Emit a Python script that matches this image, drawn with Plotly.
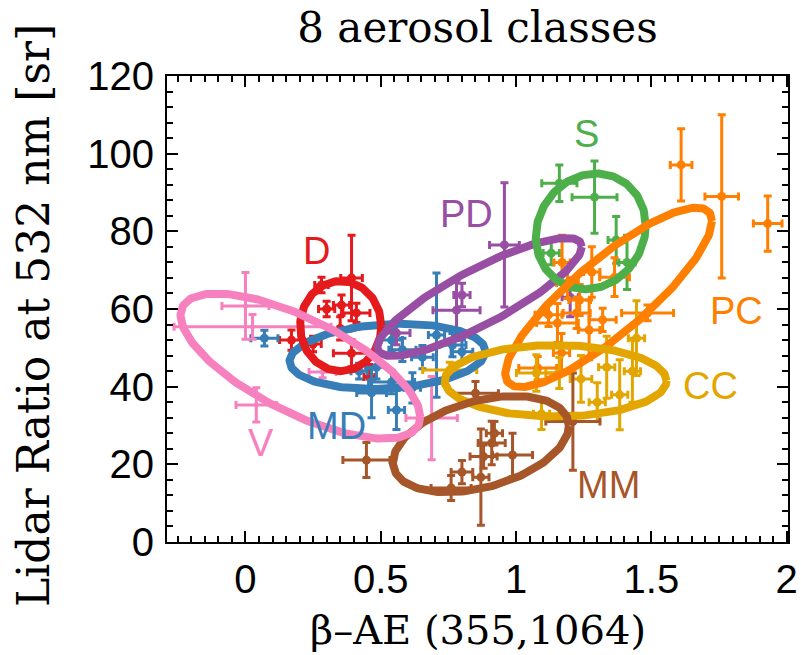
import numpy as np
import plotly.graph_objects as go

# ---------------- data ----------------
classes = ["D", "MD", "PD", "S", "PC", "CC", "MM", "V"]
colors = {"D": "#e41a1c", "MD": "#377eb8", "PD": "#984ea3", "S": "#4daf4a",
          "PC": "#ff7f00", "CC": "#e3a600", "MM": "#a65628", "V": "#f781bf"}

# per-class measurements: x (beta-AE), y (lidar ratio), x error, y error
D_x  = [0.392, 0.281, 0.355, 0.300, 0.410, 0.170, 0.392, 0.458, 0.350, 0.250]
D_y  = [68.0, 66.2, 61.0, 60.0, 59.0, 52.0, 48.6, 42.5, 55.0, 51.0]
D_xe = [0.040, 0.025, 0.030, 0.030, 0.050, 0.044, 0.067, 0.020, 0.040, 0.030]
D_ye = [11.0, 2.0, 2.6, 2.0, 2.5, 2.6, 3.5, 3.2, 3.0, 2.0]

MD_x  = [0.070, 0.706, 0.540, 0.580, 0.800, 0.466, 0.558, 0.540, 0.617, 0.484, 0.654, 0.765, 0.420]
MD_y  = [52.5, 53.3, 52.0, 49.5, 49.0, 38.4, 34.0, 41.2, 39.7, 45.0, 47.6, 50.7, 44.0]
MD_xe = [0.050, 0.030, 0.040, 0.050, 0.040, 0.055, 0.030, 0.085, 0.030, 0.040, 0.040, 0.050, 0.030]
MD_ye = [2.0, 16.0, 3.0, 3.0, 3.0, 6.4, 5.0, 3.0, 3.9, 3.0, 3.0, 3.0, 2.0]

PD_x  = [0.780, 0.800, 0.558, 0.957, 1.200]
PD_y  = [59.7, 63.6, 53.8, 76.5, 63.0]
PD_xe = [0.087, 0.030, 0.050, 0.055, 0.030]
PD_ye = [7.7, 3.0, 3.0, 16.0, 5.0]

S_x  = [1.290, 1.160, 1.130, 1.370, 1.410]
S_y  = [88.8, 92.4, 74.4, 77.8, 72.0]
S_xe = [0.083, 0.065, 0.030, 0.030, 0.030]
S_ye = [9.3, 4.7, 3.0, 6.0, 7.0]

PC_x  = [1.610, 1.760, 1.930, 1.486, 1.170, 1.280, 1.364, 1.153, 1.224, 1.270, 1.320, 1.080, 1.190, 1.235, 1.168, 1.120]
PC_y  = [97.1, 89.0, 82.0, 59.0, 72.0, 69.5, 68.2, 56.4, 59.0, 54.6, 57.2, 44.8, 66.7, 62.3, 48.7, 58.5]
PC_xe = [0.040, 0.062, 0.053, 0.096, 0.030, 0.030, 0.055, 0.077, 0.050, 0.040, 0.050, 0.070, 0.040, 0.040, 0.030, 0.050]
PC_ye = [9.3, 21.0, 7.1, 2.0, 7.0, 6.5, 5.0, 5.0, 4.0, 7.7, 3.0, 3.0, 4.0, 4.0, 5.0, 3.0]

CC_x  = [1.445, 1.383, 1.300, 1.335, 1.430, 1.075, 1.160, 1.094, 0.755, 1.240]
CC_y  = [52.5, 37.9, 36.0, 45.0, 44.0, 43.5, 43.5, 33.0, 44.3, 42.0]
CC_xe = [0.030, 0.030, 0.030, 0.030, 0.030, 0.074, 0.050, 0.030, 0.100, 0.040]
CC_ye = [9.6, 9.0, 5.0, 8.0, 8.0, 4.7, 4.0, 4.0, 2.0, 6.0]

MM_x  = [0.447, 0.760, 0.850, 0.910, 0.987, 0.870, 1.210, 0.880, 0.920, 0.800]
MM_y  = [21.1, 13.9, 38.3, 25.5, 22.4, 16.7, 31.0, 22.0, 28.0, 18.0]
MM_xe = [0.087, 0.074, 0.085, 0.050, 0.074, 0.030, 0.100, 0.050, 0.030, 0.040]
MM_ye = [4.5, 3.2, 3.0, 5.6, 5.6, 12.4, 12.5, 3.0, 3.0, 3.0]

V_x  = [0.000, 0.026, 0.040, 0.688, 0.285]
V_y  = [60.8, 55.4, 35.3, 31.9, 43.8]
V_xe = [0.087, 0.290, 0.075, 0.095, 0.050]
V_ye = [8.6, 3.2, 4.4, 10.7, 1.5]

points = {
    "D": (D_x, D_y, D_xe, D_ye), "MD": (MD_x, MD_y, MD_xe, MD_ye),
    "PD": (PD_x, PD_y, PD_xe, PD_ye), "S": (S_x, S_y, S_xe, S_ye),
    "PC": (PC_x, PC_y, PC_xe, PC_ye), "CC": (CC_x, CC_y, CC_xe, CC_ye),
    "MM": (MM_x, MM_y, MM_xe, MM_ye), "V": (V_x, V_y, V_xe, V_ye),
}

# class ellipses: centre x, centre y, half-width x, half-height y, correlation
ell_cx  = {"D": 0.352, "MD": 0.525, "PD": 0.865, "S": 1.276, "PC": 1.342, "CC": 1.146, "MM": 0.870, "V": 0.203}
ell_cy  = {"D": 55.6, "MD": 47.8, "PD": 63.1, "S": 80.0, "PC": 63.0, "CC": 41.5, "MM": 25.2, "V": 45.3}
ell_sx  = {"D": 0.150, "MD": 0.362, "PD": 0.378, "S": 0.203, "PC": 0.382, "CC": 0.410, "MM": 0.325, "V": 0.443}
ell_sy  = {"D": 11.6, "MD": 8.4, "PD": 15.2, "S": 14.9, "PC": 23.1, "CC": 9.2, "MM": 12.4, "V": 18.7}
ell_rho = {"D": 0.0, "MD": 0.15, "PD": 0.85, "S": 0.1, "PC": 0.85, "CC": 0.0, "MM": 0.38, "V": -0.7}

# class label positions
lab_x = {"D": 0.262, "MD": 0.336, "PD": 0.817, "S": 1.261, "PC": 1.815, "CC": 1.719, "MM": 1.342, "V": 0.059}
lab_y = {"D": 74.9, "MD": 29.9, "PD": 84.5, "S": 105.1, "PC": 59.5, "CC": 40.2, "MM": 14.7, "V": 25.5}

x_ticks = [0, 0.5, 1, 1.5, 2]
x_ticklabels = ["0", "0.5", "1", "1.5", "2"]
y_ticks = [0, 20, 40, 60, 80, 100, 120]

# ---------------- figure ----------------
fig = go.Figure()

for c in classes:
    x, y, xe, ye = points[c]
    fig.add_trace(go.Scatter(
        x=x, y=y, mode="markers", name=c, showlegend=False,
        marker=dict(color=colors[c], size=9 if c != "V" else 5),
        error_x=dict(type="data", array=xe, color=colors[c], thickness=3, width=4),
        error_y=dict(type="data", array=ye, color=colors[c], thickness=3, width=4),
    ))

t = np.linspace(0, 2 * np.pi, 240)
for c in ["MD", "D", "PD", "S", "PC", "CC", "MM", "V"]:
    r = ell_rho[c]
    ex = ell_cx[c] + ell_sx[c] * np.cos(t)
    ey = ell_cy[c] + ell_sy[c] * (r * np.cos(t) + np.sqrt(1 - r * r) * np.sin(t))
    fig.add_trace(go.Scatter(x=ex, y=ey, mode="lines", showlegend=False,
                             line=dict(color=colors[c], width=8), hoverinfo="skip"))

for c in classes:
    fig.add_annotation(x=lab_x[c], y=lab_y[c], text=c, showarrow=False,
                       font=dict(family="Liberation Sans", size=38, color=colors[c]),
                       xanchor="center", yanchor="middle")

serif = "DejaVu Serif"
fig.add_annotation(xref="paper", yref="paper", x=0.5, y=0, yshift=-88,
                   text="β–AE (355,1064)", showarrow=False, xanchor="center", yanchor="middle",
                   font=dict(family=serif, size=40, color="black"))
fig.add_annotation(xref="paper", yref="paper", x=0, y=0.485, xshift=-133,
                   text="Lidar Ratio at 532 nm [sr]", showarrow=False, textangle=-90,
                   xanchor="center", yanchor="middle",
                   font=dict(family=serif, size=44, color="black"))

axis_common = dict(showline=True, linecolor="black", linewidth=2, mirror="ticks",
                   ticks="inside", ticklen=11, tickwidth=1.5, tickcolor="black",
                   showgrid=False, zeroline=False, automargin=False,
                   tickfont=dict(family="Liberation Sans", size=40, color="black"))

fig.update_xaxes(range=[-0.29, 2.005], tickmode="array", tickvals=x_ticks, ticktext=x_ticklabels,
                 minor=dict(dtick=0.05, tick0=0, ticks="inside", ticklen=6, tickcolor="black", showgrid=False),
                 ticklabelstandoff=1, ticklabeloverflow="allow", **axis_common)
fig.update_yaxes(range=[0, 120], tickmode="array", tickvals=y_ticks,
                 minor=dict(dtick=4, tick0=0, ticks="inside", ticklen=6, tickcolor="black", showgrid=False),
                 ticklabelstandoff=3, **axis_common)

fig.update_layout(
    width=801, height=655,
    margin=dict(l=167, r=13, t=76, b=113, autoexpand=False),
    paper_bgcolor="white", plot_bgcolor="white",
    title=dict(text="8 aerosol classes", x=0.5, xref="paper", xanchor="center",
               y=1 - 27 / 655, yref="container", yanchor="middle",
               font=dict(family=serif, size=42, color="black")),
)

# remove the browser's default 8px page margin so the figure fills the window
fig.write_html("out.html", config={"displayModeBar": False},
               post_script="document.body.style.margin='0px';document.body.style.overflow='hidden';")
